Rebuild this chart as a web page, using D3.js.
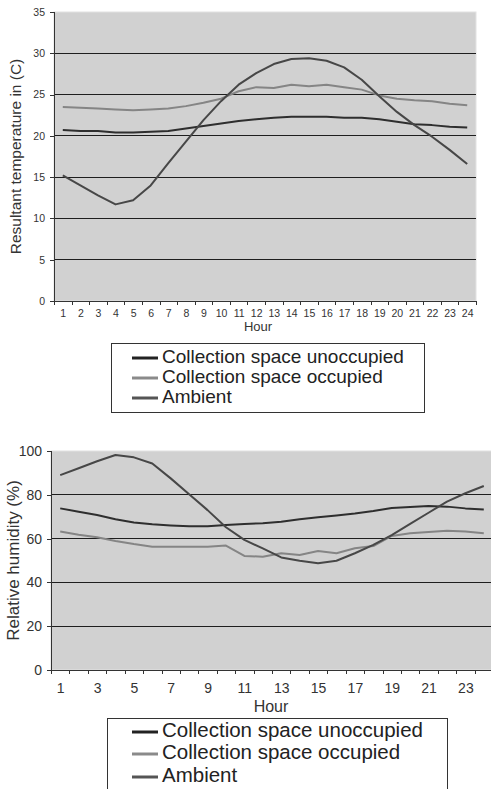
<!DOCTYPE html>
<html>
<head>
<meta charset="utf-8">
<script src="https://cdn.jsdelivr.net/npm/d3@7"></script>
<style>
  body { margin: 0; background: #fff; }
  svg { display: block; font-family: "Liberation Sans", Arial, sans-serif; }
</style>
</head>
<body>
<div id="graphicContainer"></div>
<script>
// hours 1..24
var hours = d3.range(1, 25)

// resultant temperature (C)
var tempUnoccupied = [20.7, 20.6, 20.6, 20.4, 20.4, 20.5, 20.6, 20.9, 21.2, 21.5, 21.8, 22.0, 22.2, 22.3, 22.3, 22.3, 22.2, 22.2, 22.0, 21.7, 21.4, 21.3, 21.1, 21.0]
var tempOccupied = [23.5, 23.4, 23.3, 23.2, 23.1, 23.2, 23.3, 23.6, 24.0, 24.5, 25.4, 25.9, 25.8, 26.2, 26.0, 26.2, 25.9, 25.6, 24.9, 24.5, 24.3, 24.2, 23.9, 23.7]
var tempAmbient = [15.2, 14.0, 12.8, 11.7, 12.2, 14.0, 16.7, 19.3, 21.9, 24.2, 26.2, 27.6, 28.7, 29.3, 29.4, 29.1, 28.3, 26.8, 24.8, 22.9, 21.3, 19.9, 18.3, 16.6]

// relative humidity (%)
var rhUnoccupied = [73.8, 72.3, 70.8, 68.8, 67.4, 66.5, 66.0, 65.6, 65.6, 66.2, 66.7, 67.0, 67.7, 68.8, 69.7, 70.6, 71.5, 72.6, 74.0, 74.4, 74.9, 74.6, 73.8, 73.3]
var rhOccupied = [63.2, 61.8, 60.6, 58.9, 57.5, 56.3, 56.3, 56.3, 56.3, 56.8, 52.1, 51.7, 53.3, 52.5, 54.3, 53.3, 55.6, 56.6, 61.2, 62.4, 63.0, 63.6, 63.2, 62.4]
var rhAmbient = [89.0, 92.1, 95.3, 98.2, 97.1, 94.3, 87.5, 80.2, 73.0, 65.2, 59.4, 55.5, 51.4, 49.9, 48.7, 49.9, 53.3, 57.1, 61.6, 66.7, 71.8, 76.9, 80.7, 84.0]

var seriesNames = ["Collection space unoccupied", "Collection space occupied", "Ambient"]
var tempTicks = [0, 5, 10, 15, 20, 25, 30, 35]
var rhTicks = [0, 20, 40, 60, 80, 100]
var rhHourLabels = [1, 3, 5, 7, 9, 11, 13, 15, 17, 19, 21, 23]

var colors = ["#2e2e2e", "#858585", "#474747"]
var legendColors = ["#222", "#8a8a8a", "#555"]

var width = 491, height = 789

var svg = d3.select("#graphicContainer").append("svg")
	.attr("width", width)
	.attr("height", height)

function drawChart(opt) {
	var g = svg.append("g")

	var x = d3.scaleLinear()
		.domain([0.5, 24.5])
		.range([opt.left, opt.right])

	var y = d3.scaleLinear()
		.domain([0, opt.max])
		.range([opt.bottom, opt.top])

	g.append("rect")
		.attr("x", opt.left)
		.attr("y", opt.top)
		.attr("width", opt.right - opt.left)
		.attr("height", opt.bottom - opt.top)
		.attr("fill", "#d1d1d1")
		.attr("stroke", "#e2e2e2")

	// gridlines
	g.selectAll(".grid")
		.data(opt.yTicks.filter(d => d > 0 && d < opt.max))
		.join("line")
		.attr("x1", opt.left)
		.attr("x2", opt.right)
		.attr("y1", d => y(d))
		.attr("y2", d => y(d))
		.attr("stroke", "#1e1e1e")
		.attr("stroke-width", 1)
		.attr("shape-rendering", "crispEdges")

	var yAxis = g.append("g")
		.attr("transform", `translate(${opt.left},0)`)
		.call(d3.axisLeft(y).tickValues(opt.yTicks).tickSize(4).tickPadding(5))
	yAxis.selectAll("text").attr("font-size", opt.tickFont).attr("fill", "#333").attr("font-family", null)
	yAxis.selectAll("line, path").attr("stroke", "#333").attr("shape-rendering", "crispEdges")
	yAxis.select(".domain").attr("d", `M-4,${opt.bottom}H0V${opt.top}`)

	var xTicks = g.append("g")
		.attr("transform", `translate(0,${opt.bottom})`)
		.call(d3.axisBottom(x).tickValues(d3.range(0.5, 25, 1)).tickSize(4).tickFormat(""))
	xTicks.selectAll("line, path").attr("stroke", "#333").attr("shape-rendering", "crispEdges")
	xTicks.select(".domain").attr("d", `M${opt.left},0H${opt.right}`)

	var xLabels = g.append("g")
		.attr("transform", `translate(0,${opt.bottom})`)
		.call(d3.axisBottom(x).tickValues(opt.xLabels).tickSize(0).tickPadding(opt.xPad))
	xLabels.select(".domain").remove()
	xLabels.selectAll("text").attr("font-size", opt.tickFont).attr("fill", "#333").attr("font-family", null)

	var line = d3.line()
		.x((d, i) => x(hours[i]))
		.y(d => y(d))

	opt.series.forEach((s, i) => {
		g.append("path")
			.datum(s)
			.attr("fill", "none")
			.attr("stroke", colors[i])
			.attr("stroke-width", 2)
			.attr("stroke-linejoin", "round")
			.attr("d", line)
	})

	g.append("text")
		.attr("transform", `translate(${opt.yTitleX},${(opt.top + opt.bottom) / 2}) rotate(-90)`)
		.attr("text-anchor", "middle")
		.attr("dominant-baseline", "middle")
		.attr("font-size", opt.titleFont)
		.attr("fill", "#333")
		.text(opt.yTitle)

	g.append("text")
		.attr("x", opt.hourX)
		.attr("y", opt.hourY)
		.attr("text-anchor", "middle")
		.attr("dominant-baseline", "middle")
		.attr("font-size", opt.hourFont)
		.attr("fill", "#333")
		.text("Hour")

	// legend
	var lg = g.append("g")
	lg.append("rect")
		.attr("x", opt.legend.x)
		.attr("y", opt.legend.y)
		.attr("width", opt.legend.w)
		.attr("height", opt.legend.h)
		.attr("fill", "#fff")
		.attr("stroke", "#333")
		.attr("shape-rendering", "crispEdges")

	var item = lg.selectAll(".item")
		.data(seriesNames)
		.join("g")
		.attr("transform", (d, i) => `translate(0,${opt.legend.rows[i]})`)

	item.append("line")
		.attr("x1", 132)
		.attr("x2", 158)
		.attr("stroke", (d, i) => legendColors[i])
		.attr("stroke-width", 3)

	item.append("text")
		.attr("x", 162)
		.attr("dominant-baseline", "middle")
		.attr("font-size", opt.legend.font)
		.attr("fill", "#222")
		.text(d => d)
}

drawChart({
	left: 54, right: 476, top: 12, bottom: 301, max: 35,
	yTicks: tempTicks, xLabels: hours, xPad: 9,
	series: [tempUnoccupied, tempOccupied, tempAmbient],
	tickFont: 10.5, titleFont: 15.5, hourFont: 13,
	yTitle: "Resultant temperature in (C)", yTitleX: 17,
	hourX: 258, hourY: 328,
	legend: {x: 111, y: 343, w: 313, h: 69, rows: [358, 378, 398], font: 19}
})

drawChart({
	left: 51, right: 493, top: 451, bottom: 670, max: 100,
	yTicks: rhTicks, xLabels: rhHourLabels, xPad: 13,
	series: [rhUnoccupied, rhOccupied, rhAmbient],
	tickFont: 14, titleFont: 17, hourFont: 16,
	yTitle: "Relative humidity (%)", yTitleX: 15,
	hourX: 271, hourY: 708,
	legend: {x: 107, y: 718, w: 340, h: 90, rows: [732, 754, 777], font: 20.5}
})
</script>
</body>
</html>
